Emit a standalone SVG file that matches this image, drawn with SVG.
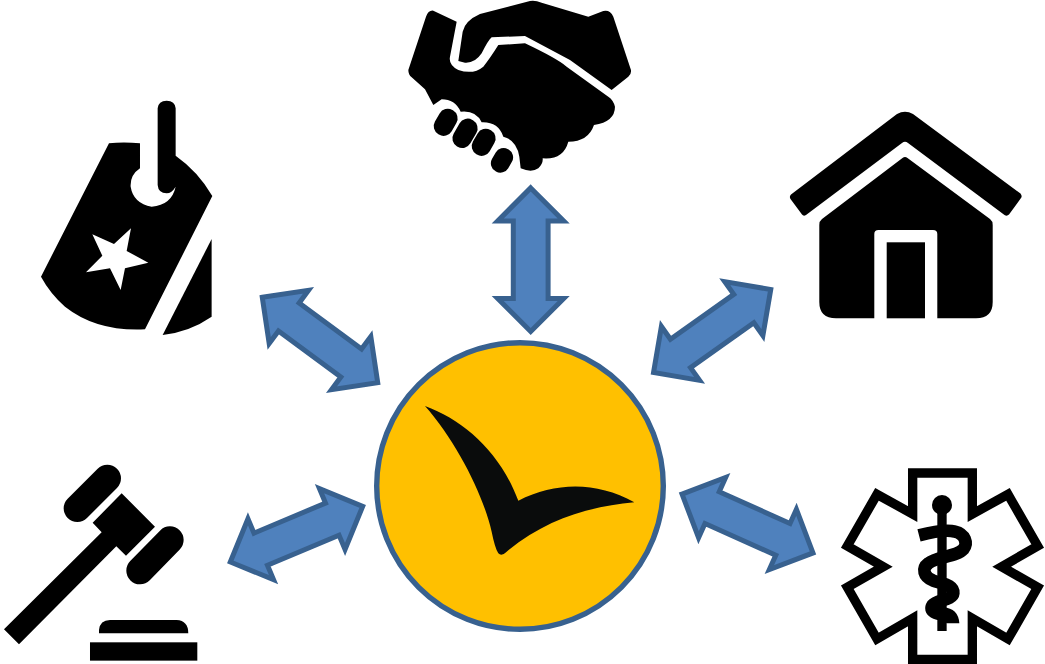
<svg xmlns="http://www.w3.org/2000/svg" width="1045" height="664" viewBox="0 0 1045 664">
  <style>
    .k { fill: #000; }
    .w { fill: #fff; }
    .arrow { fill: #4f81bd; stroke: #38618f; stroke-width: 5; stroke-linejoin: miter; stroke-miterlimit: 10; }
  </style>
  <defs>
    <polygon id="dbl" points="-71.8,0 -38.8,-33 -38.8,-17.4 38.8,-17.4 38.8,-33 71.8,0 38.8,33 38.8,17.4 -38.8,17.4 -38.8,33"/>
  </defs>
  <rect width="1045" height="664" fill="#fff"/>

  <g id="connectors">
    <use href="#dbl" class="arrow" transform="translate(530.7,259.7) rotate(90)"/>
    <use href="#dbl" class="arrow" transform="translate(320,340) rotate(36.5)"/>
    <use href="#dbl" class="arrow" transform="translate(712.15,331) rotate(-35.3)"/>
    <use href="#dbl" class="arrow" transform="translate(296.5,534.15) rotate(-22.8)"/>
    <use href="#dbl" class="arrow" transform="translate(747.5,523.5) rotate(24.2)"/>
  </g>

  <g id="node-center">
    <circle cx="520" cy="486" r="143.3" fill="#ffc000" stroke="#38618f" stroke-width="5.4"/>
    <path fill="#0a0c0c" transform="translate(370,335) scale(0.3333)" d="M165,213 C280,255 390,350 445,497 C560,440 680,440 793,502 C660,515 530,550 410,650 Q395,665 385,655 Q375,640 365,590 C340,480 260,320 165,213 Z"/>
  </g>

  <g id="node-handshake" transform="translate(400,0) scale(0.3333)">
    <path class="k" d="M175,183 L188,95 Q195,62 240,42 L390,3 Q405,0 425,8 L565,50 L610,33 Q630,28 640,50 L693,210 Q695,222 685,230 L635,270 L510,180 L375,108 L275,112 Q265,120 245,160 Q225,190 195,188 Z"/>
    <path class="k" d="M100,32 Q85,30 78,50 L25,210 Q25,225 35,232 L75,268 L100,315 L125,298 Q165,298 182,335 Q228,330 245,367 Q295,365 310,410 Q350,420 358,470 L362,505 Q395,520 415,505 Q430,490 428,475 Q490,480 505,425 Q565,425 582,375 Q645,365 645,320 Q640,300 625,290 L500,200 Q470,175 375,130 L295,135 Q270,175 250,200 Q220,225 175,210 Q145,195 150,170 L170,65 Z"/>
    <rect class="k" x="108" y="325" width="58" height="84" rx="28" transform="rotate(30 137 367)"/>
    <rect class="k" x="166" y="354" width="58" height="92" rx="28" transform="rotate(30 195 400)"/>
    <rect class="k" x="222" y="385" width="58" height="84" rx="28" transform="rotate(30 251 427)"/>
    <rect class="k" x="278" y="443" width="56" height="76" rx="27" transform="rotate(30 306 481)"/>
  </g>

  <g id="node-tag" transform="translate(30,90) scale(0.3333)">
    <path class="k" d="M237,160 Q280,155 330,160 L330,235 Q300,255 302,290 Q310,340 365,350 Q425,345 437,290 Q425,310 410,310 Q385,310 383,285 L383,55 Q385,32 410,32 Q435,32 437,55 L437,197 Q505,245 547,318 L345,718 Q200,725 105,650 Q60,610 33,560 Z"/>
    <path class="w" d="M303,415 L290,483 L355,518 L285,535 L272,600 L240,535 L168,547 L217,497 L187,433 L252,462 Z"/>
    <path class="k" d="M545,447 L398,735 Q480,725 545,680 Z"/>
  </g>

  <g id="node-house">
    <path class="k" d="M897,114 Q905,109.5 913,114 L1020.5,193.5 Q1022.5,196 1021,198 L1009,214.5 Q1007,216.5 1004.5,215 L908,143 Q905,140.5 902,143 L806,215 Q803.5,216.5 802,214.5 L790.5,199 Q789,196.5 791,194.5 Z"/>
    <path class="k" d="M902.5,158 Q905,156 907.5,158 L990,219 Q992.7,221 992.7,225 L992.7,302 Q992.7,318.3 976,318.3 L937.3,318.3 L937.3,234 Q937.3,230 933,230 L878.5,230 Q874.3,230 874.3,234 L874.3,318.3 L836,318.3 Q819.3,318.3 819.3,302 L819.3,225 Q819.3,221 822,219 Z"/>
    <rect class="k" x="886.7" y="242.3" width="38.3" height="76"/>
  </g>

  <g id="node-gavel" transform="translate(0,455) scale(0.3333)">
    <line x1="232" y1="160" x2="322" y2="70" stroke="#000" stroke-width="82" stroke-linecap="round"/>
    <line x1="420" y1="347" x2="510" y2="255" stroke="#000" stroke-width="82" stroke-linecap="round"/>
    <polygon class="k" points="365,115 465,215 378,302 349,274 57,568 12,523 305,232 278,203"/>
    <path class="k" d="M297,535 L297,525 Q300,495 330,495 L530,495 Q565,497 565,535 Z"/>
    <rect class="k" x="270" y="562" width="322" height="55"/>
  </g>

  <g id="node-medical" transform="translate(830,460) scale(0.3333)">
    <polygon points="248,39 427,39 427,162 534,103 623,258 515,320 623,382 534,537 427,475 427,598 248,598 248,475 141,537 52,382 160,320 52,258 141,103 248,162" fill="none" stroke="#000" stroke-width="28" stroke-miterlimit="10"/>
    <circle class="k" cx="336" cy="135" r="30"/>
    <rect class="k" x="322" y="135" width="28" height="378"/>
    <path d="M267,226 C310,215 350,208 375,215 C405,222 415,250 400,268 C380,290 320,290 295,310 C275,325 280,350 310,362 C340,372 372,375 370,400 C368,420 320,420 308,435 C295,455 320,462 345,465" fill="none" stroke="#000" stroke-width="38"/>
    <path class="k" d="M340,442 Q385,445 388,490 L350,490 L330,475 Z"/>
  </g>
</svg>
